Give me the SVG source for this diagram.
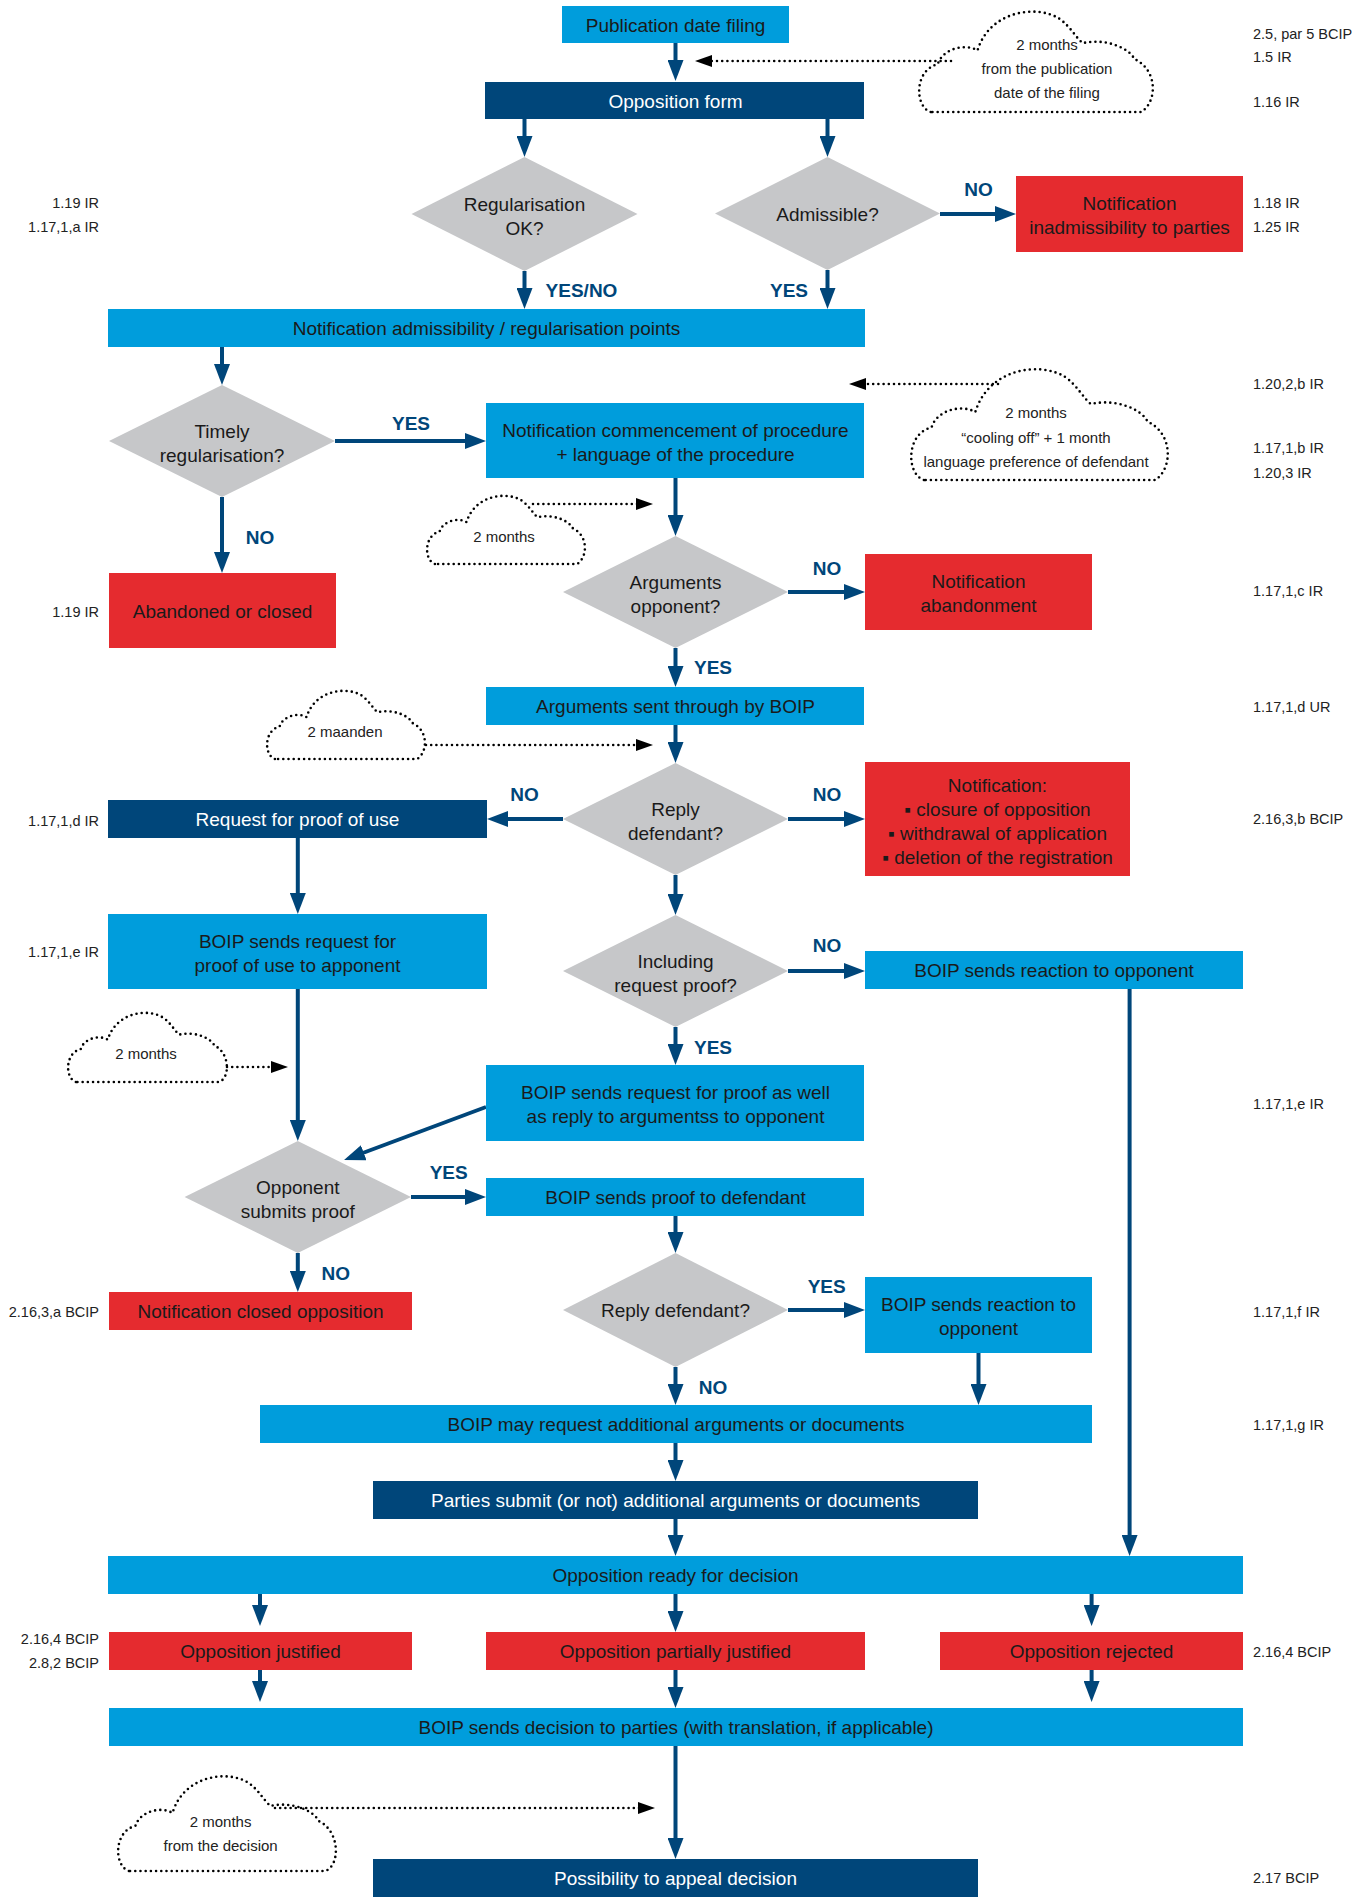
<svg xmlns="http://www.w3.org/2000/svg" width="1367" height="1899" viewBox="0 0 1367 1899">
<style>
.lb{fill:#009DDC}.nv{fill:#00467A}.rd{fill:#E52B2F}.dm{fill:#C6C7C9}
text{font-family:"Liberation Sans",Arial,sans-serif}
.t{font-size:19px;fill:#1a1a1a;text-anchor:middle}
.tw{font-size:19px;fill:#ffffff;text-anchor:middle}
.ref{font-size:14.5px;fill:#222}
.rl{text-anchor:end}
.cl{font-size:15px;fill:#222;text-anchor:middle}
.lab{font-family:"Liberation Sans Narrow","Liberation Sans",Arial,sans-serif;font-size:19px;font-weight:bold;fill:#00467A;text-anchor:middle}
.ln{stroke:#00467A;stroke-width:4;fill:none;marker-end:url(#ah)}
.dl{stroke:#000;stroke-width:2.6;stroke-dasharray:0 5.2;stroke-linecap:round;fill:none;marker-end:url(#dh)}
.cloud{stroke:#000;stroke-width:2.6;stroke-dasharray:0 5.2;stroke-linecap:round;fill:none}
</style>
<defs>
<marker id="ah" markerUnits="userSpaceOnUse" viewBox="0 0 21 16" markerWidth="21" markerHeight="16" refX="11" refY="8" orient="auto"><path d="M0 0L21 8L0 16Z" fill="#00467A"/></marker>
<marker id="dh" markerUnits="userSpaceOnUse" viewBox="0 0 17 12" markerWidth="17" markerHeight="12" refX="9" refY="6" orient="auto"><path d="M0 0L17 6L0 12Z" fill="#000"/></marker>
</defs>

<g id="connectors">
<line class="ln" x1="675.5" y1="43" x2="675.5" y2="71"/>
<line class="ln" x1="524.5" y1="119" x2="524.5" y2="147"/>
<line class="ln" x1="827.5" y1="119" x2="827.5" y2="147"/>
<line class="ln" x1="940" y1="214" x2="1006" y2="214"/>
<line class="ln" x1="524.5" y1="271" x2="524.5" y2="299"/>
<line class="ln" x1="827.5" y1="270" x2="827.5" y2="299"/>
<line class="ln" x1="222" y1="347" x2="222" y2="375"/>
<line class="ln" x1="335" y1="441" x2="476" y2="441"/>
<line class="ln" x1="222" y1="497" x2="222" y2="563"/>
<line class="ln" x1="675.5" y1="478" x2="675.5" y2="526"/>
<line class="ln" x1="788" y1="592" x2="855" y2="592"/>
<line class="ln" x1="675.5" y1="648" x2="675.5" y2="677"/>
<line class="ln" x1="675.5" y1="725" x2="675.5" y2="753"/>
<line class="ln" x1="563" y1="819" x2="497" y2="819"/>
<line class="ln" x1="788" y1="819" x2="855" y2="819"/>
<line class="ln" x1="297.8" y1="838" x2="297.8" y2="904"/>
<line class="ln" x1="675.5" y1="875" x2="675.5" y2="905"/>
<line class="ln" x1="788" y1="971" x2="855" y2="971"/>
<line class="ln" x1="675.5" y1="1027" x2="675.5" y2="1055"/>
<line class="ln" x1="297.8" y1="989" x2="297.8" y2="1131"/>
<line class="ln" x1="486" y1="1107" x2="353.4" y2="1156.5"/>
<line class="ln" x1="411" y1="1197" x2="476" y2="1197"/>
<line class="ln" x1="297.8" y1="1253" x2="297.8" y2="1282"/>
<line class="ln" x1="675.5" y1="1216" x2="675.5" y2="1243"/>
<line class="ln" x1="788" y1="1310" x2="855" y2="1310"/>
<line class="ln" x1="675.5" y1="1367" x2="675.5" y2="1395"/>
<line class="ln" x1="978.5" y1="1353" x2="978.5" y2="1395"/>
<line class="ln" x1="1129.6" y1="989" x2="1129.6" y2="1546"/>
<line class="ln" x1="675.5" y1="1443" x2="675.5" y2="1471"/>
<line class="ln" x1="675.5" y1="1519" x2="675.5" y2="1546"/>
<line class="ln" x1="260" y1="1594" x2="260" y2="1616"/>
<line class="ln" x1="675.5" y1="1594" x2="675.5" y2="1622"/>
<line class="ln" x1="1091.6" y1="1594" x2="1091.6" y2="1616"/>
<line class="ln" x1="260" y1="1670" x2="260" y2="1692"/>
<line class="ln" x1="675.5" y1="1670" x2="675.5" y2="1698"/>
<line class="ln" x1="1091.6" y1="1670" x2="1091.6" y2="1692"/>
<line class="ln" x1="675.5" y1="1746" x2="675.5" y2="1849"/>
<line class="dl" x1="951" y1="61" x2="703" y2="61"/>
<line class="dl" x1="998" y1="384" x2="857" y2="384"/>
<line class="dl" x1="533" y1="504" x2="645" y2="504"/>
<line class="dl" x1="426" y1="745" x2="645" y2="745"/>
<line class="dl" x1="227" y1="1067" x2="280" y2="1067"/>
<line class="dl" x1="275" y1="1808" x2="647" y2="1808"/>
<text class="lab" x="581.5" y="296.5">YES/NO</text>
<text class="lab" x="789" y="296.5">YES</text>
<text class="lab" x="978.6" y="195.5">NO</text>
<text class="lab" x="411" y="429.5">YES</text>
<text class="lab" x="260" y="543.5">NO</text>
<text class="lab" x="827" y="574.5">NO</text>
<text class="lab" x="713" y="673.5">YES</text>
<text class="lab" x="524.5" y="800.5">NO</text>
<text class="lab" x="827" y="800.5">NO</text>
<text class="lab" x="827" y="951.5">NO</text>
<text class="lab" x="713" y="1053.5">YES</text>
<text class="lab" x="448.7" y="1178.5">YES</text>
<text class="lab" x="335.7" y="1279.5">NO</text>
<text class="lab" x="826.7" y="1292.5">YES</text>
<text class="lab" x="713" y="1393.5">NO</text>
</g>

<g id="clouds">
<g id="cloud-publication">
<path class="cloud" d="M930.7 112C914.3 106.7 914.3 69.6 937.7 64.3C942.4 48.4 965.8 43.1 977.5 50.5C989.2 11.3 1036 3.9 1059.4 18.7C1071.1 27.2 1075.8 37.8 1082.8 43.1C1106.2 37.8 1129.6 48.4 1134.3 59C1157.7 69.6 1157.7 101.4 1141.3 112Z"/>
<text class="cl" x="1047" y="50">2 months</text>
<text class="cl" x="1047" y="74">from the publication</text>
<text class="cl" x="1047" y="98">date of the filing</text>
</g>
<g id="cloud-cooling">
<path class="cloud" d="M923.9 480C905.9 474.2 905.9 433.2 931.6 427.4C936.7 409.8 962.4 404 975.3 412.1C988.1 368.9 1039.5 360.7 1065.2 377C1078.1 386.4 1083.2 398.1 1090.9 404C1116.6 398.1 1142.3 409.8 1147.4 421.5C1173.1 433.2 1173.1 468.3 1155.2 480Z"/>
<text class="cl" x="1036" y="418">2 months</text>
<text class="cl" x="1036" y="443">“cooling off” + 1 month</text>
<text class="cl" x="1036" y="467">language preference of defendant</text>
</g>
<g id="cloud-arguments">
<path class="cloud" d="M434.9 564C423.8 560.4 423.8 535.2 439.6 531.6C442.8 520.8 458.6 517.2 466.5 522.2C474.4 495.6 506 490.6 521.8 500.6C529.7 506.4 532.9 513.6 537.6 517.2C553.4 513.6 569.2 520.8 572.4 528C588.2 535.2 588.2 556.8 577.1 564Z"/>
<text class="cl" x="504" y="542">2 months</text>
</g>
<g id="cloud-reply">
<path class="cloud" d="M274.9 759C263.8 755.4 263.8 730.2 279.6 726.6C282.8 715.8 298.6 712.2 306.5 717.2C314.4 690.6 346 685.6 361.8 695.6C369.7 701.4 372.9 708.6 377.6 712.2C393.4 708.6 409.2 715.8 412.4 723C428.2 730.2 428.2 751.8 417.1 759Z"/>
<text class="cl" x="345" y="737">2 maanden</text>
</g>
<g id="cloud-proof">
<path class="cloud" d="M75.9 1082C64.8 1078.4 64.8 1052.8 80.7 1049.2C83.9 1038.2 99.8 1034.6 107.8 1039.7C115.7 1012.7 147.5 1007.5 163.4 1017.8C171.4 1023.6 174.5 1030.9 179.3 1034.6C195.2 1030.9 211.1 1038.2 214.3 1045.5C230.2 1052.8 230.2 1078.4 219 1082Z"/>
<text class="cl" x="146" y="1059">2 months</text>
</g>
<g id="cloud-decision">
<path class="cloud" d="M128.9 1871C113.6 1866 113.6 1831 135.4 1826C139.8 1811 161.6 1806 172.5 1813C183.4 1776 227 1769 248.8 1783C259.7 1791 264.1 1801 270.6 1806C292.4 1801 314.2 1811 318.6 1821C340.4 1831 340.4 1866 325.1 1871Z"/>
<text class="cl" x="220.6" y="1827">2 months</text>
<text class="cl" x="220.6" y="1851">from the decision</text>
</g>
</g>

<g id="n-publication"><rect class="lb" x="562" y="6" width="227" height="37"/><text class="t" x="675.5" y="32">Publication date filing</text></g>
<g id="n-opposition-form"><rect class="nv" x="485" y="82" width="379" height="37"/><text class="tw" x="675.5" y="107.5">Opposition form</text></g>
<g id="n-regularisation-ok"><polygon class="dm" points="524.5,157 637.5,214 524.5,271 411.5,214"/><text class="t" x="524.5" y="211">Regularisation</text><text class="t" x="524.5" y="235">OK?</text></g>
<g id="n-admissible"><polygon class="dm" points="827.5,157 940,213.5 827.5,270 715,213.5"/><text class="t" x="827.5" y="220.5">Admissible?</text></g>
<g id="n-inadmissibility"><rect class="rd" x="1016" y="176" width="227" height="76"/><text class="t" x="1129.5" y="210">Notification</text><text class="t" x="1129.5" y="234">inadmissibility to parties</text></g>
<g id="n-admissibility-points"><rect class="lb" x="108" y="309" width="757" height="38"/><text class="t" x="486.5" y="335">Notification admissibility / regularisation points</text></g>
<g id="n-timely"><polygon class="dm" points="222,385 335,441 222,497 109,441"/><text class="t" x="222" y="438">Timely</text><text class="t" x="222" y="462">regularisation?</text></g>
<g id="n-commencement"><rect class="lb" x="486" y="403" width="378" height="75"/><text class="t" x="675.5" y="437">Notification commencement of procedure</text><text class="t" x="675.5" y="461">+ language of the procedure</text></g>
<g id="n-abandoned"><rect class="rd" x="109" y="573" width="227" height="75"/><text class="t" x="222.5" y="617.5">Abandoned or closed</text></g>
<g id="n-arguments-opponent"><polygon class="dm" points="675.5,536 788,592 675.5,648 563,592"/><text class="t" x="675.5" y="589">Arguments</text><text class="t" x="675.5" y="613">opponent?</text></g>
<g id="n-abandonment"><rect class="rd" x="865" y="554" width="227" height="76"/><text class="t" x="978.5" y="588">Notification</text><text class="t" x="978.5" y="612">abandonment</text></g>
<g id="n-arguments-sent"><rect class="lb" x="486" y="687" width="378" height="38"/><text class="t" x="675.5" y="713">Arguments sent through by BOIP</text></g>
<g id="n-reply-defendant"><polygon class="dm" points="675.5,763 788,819 675.5,875 563,819"/><text class="t" x="675.5" y="816">Reply</text><text class="t" x="675.5" y="840">defendant?</text></g>
<g id="n-request-proof"><rect class="nv" x="108" y="800" width="379" height="38"/><text class="tw" x="297.5" y="826">Request for proof of use</text></g>
<g id="n-closure"><rect class="rd" x="865" y="762" width="265" height="114"/><text class="t" x="997.5" y="791.5">Notification:</text><text class="t" x="997.5" y="815.5">▪ closure of opposition</text><text class="t" x="997.5" y="839.5">▪ withdrawal of application</text><text class="t" x="997.5" y="863.5">▪ deletion of the registration</text></g>
<g id="n-boip-request-proof-use"><rect class="lb" x="108" y="914" width="379" height="75"/><text class="t" x="297.5" y="947.5">BOIP sends request for</text><text class="t" x="297.5" y="971.5">proof of use to apponent</text></g>
<g id="n-including"><polygon class="dm" points="675.5,915 788,971 675.5,1027 563,971"/><text class="t" x="675.5" y="968">Including</text><text class="t" x="675.5" y="992">request proof?</text></g>
<g id="n-reaction-1"><rect class="lb" x="865" y="951" width="378" height="38"/><text class="t" x="1054" y="977">BOIP sends reaction to opponent</text></g>
<g id="n-request-proof-reply"><rect class="lb" x="486" y="1065" width="378" height="76"/><text class="t" x="675.5" y="1098.5">BOIP sends request for proof as well</text><text class="t" x="675.5" y="1122.5">as reply to argumentss to opponent</text></g>
<g id="n-opponent-submits"><polygon class="dm" points="297.8,1141 411,1197 297.8,1253 184.6,1197"/><text class="t" x="297.8" y="1194">Opponent</text><text class="t" x="297.8" y="1218">submits proof</text></g>
<g id="n-proof-defendant"><rect class="lb" x="486" y="1178" width="378" height="38"/><text class="t" x="675.5" y="1204">BOIP sends proof to defendant</text></g>
<g id="n-closed-opposition"><rect class="rd" x="109" y="1292" width="303" height="38"/><text class="t" x="260.5" y="1318">Notification closed opposition</text></g>
<g id="n-reply-defendant-2"><polygon class="dm" points="675.5,1253 788,1310 675.5,1367 563,1310"/><text class="t" x="675.5" y="1317">Reply defendant?</text></g>
<g id="n-reaction-2"><rect class="lb" x="865" y="1277" width="227" height="76"/><text class="t" x="978.5" y="1310.5">BOIP sends reaction to</text><text class="t" x="978.5" y="1334.5">opponent</text></g>
<g id="n-may-request"><rect class="lb" x="260" y="1405" width="832" height="38"/><text class="t" x="676" y="1431">BOIP may request additional arguments or documents</text></g>
<g id="n-parties-submit"><rect class="nv" x="373" y="1481" width="605" height="38"/><text class="tw" x="675.5" y="1507">Parties submit (or not) additional arguments or documents</text></g>
<g id="n-ready"><rect class="lb" x="108" y="1556" width="1135" height="38"/><text class="t" x="675.5" y="1582">Opposition ready for decision</text></g>
<g id="n-justified"><rect class="rd" x="109" y="1632" width="303" height="38"/><text class="t" x="260.5" y="1658">Opposition justified</text></g>
<g id="n-partially"><rect class="rd" x="486" y="1632" width="379" height="38"/><text class="t" x="675.5" y="1658">Opposition partially justified</text></g>
<g id="n-rejected"><rect class="rd" x="940" y="1632" width="303" height="38"/><text class="t" x="1091.5" y="1658">Opposition rejected</text></g>
<g id="n-decision"><rect class="lb" x="109" y="1708" width="1134" height="38"/><text class="t" x="676" y="1734">BOIP sends decision to parties (with translation, if applicable)</text></g>
<g id="n-appeal"><rect class="nv" x="373" y="1859" width="605" height="38"/><text class="tw" x="675.5" y="1885">Possibility to appeal decision</text></g>

<g id="references">
<text class="ref" x="1253" y="39">2.5, par 5 BCIP</text>
<text class="ref" x="1253" y="62">1.5 IR</text>
<text class="ref" x="1253" y="106.5">1.16 IR</text>
<text class="ref" x="1253" y="208">1.18 IR</text>
<text class="ref" x="1253" y="232">1.25 IR</text>
<text class="ref" x="1253" y="389">1.20,2,b IR</text>
<text class="ref" x="1253" y="453">1.17,1,b IR</text>
<text class="ref" x="1253" y="478">1.20,3 IR</text>
<text class="ref" x="1253" y="596">1.17,1,c IR</text>
<text class="ref" x="1253" y="712">1.17,1,d UR</text>
<text class="ref" x="1253" y="824">2.16,3,b BCIP</text>
<text class="ref" x="1253" y="1109">1.17,1,e IR</text>
<text class="ref" x="1253" y="1317">1.17,1,f IR</text>
<text class="ref" x="1253" y="1430">1.17,1,g IR</text>
<text class="ref" x="1253" y="1657">2.16,4 BCIP</text>
<text class="ref" x="1253" y="1883">2.17 BCIP</text>
<text class="ref rl" x="99" y="208">1.19 IR</text>
<text class="ref rl" x="99" y="232">1.17,1,a IR</text>
<text class="ref rl" x="99" y="617">1.19 IR</text>
<text class="ref rl" x="99" y="826">1.17,1,d IR</text>
<text class="ref rl" x="99" y="957">1.17,1,e IR</text>
<text class="ref rl" x="99" y="1317">2.16,3,a BCIP</text>
<text class="ref rl" x="99" y="1644">2.16,4 BCIP</text>
<text class="ref rl" x="99" y="1668">2.8,2 BCIP</text>
</g>
</svg>
